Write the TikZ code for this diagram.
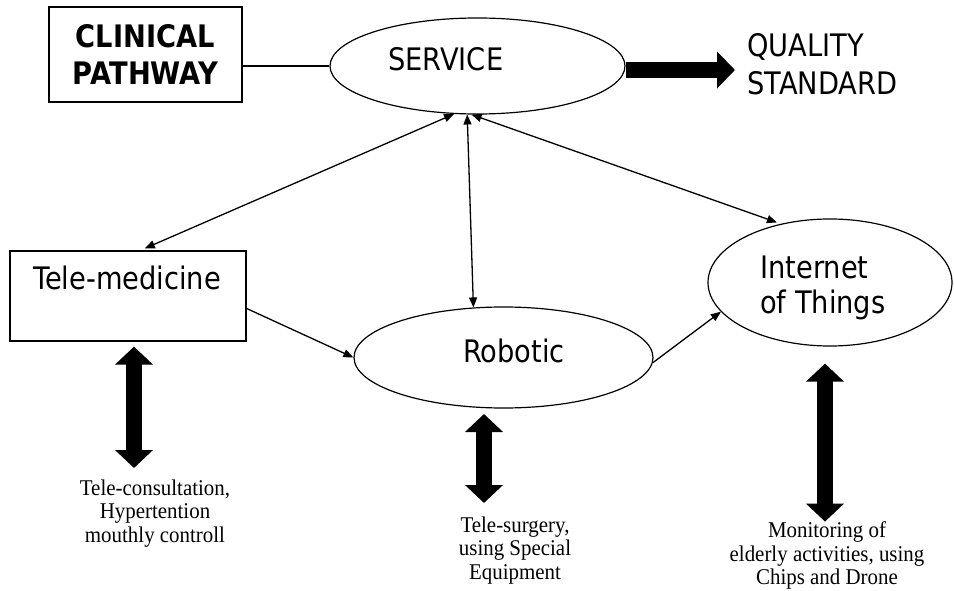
\documentclass[tikz,border=0pt]{standalone}
\usepackage{fontspec}
\usetikzlibrary{arrows.meta,shapes.geometric}
\newfontfamily\labelfont[FakeStretch=0.88]{DejaVu Sans}
\newfontfamily\notefont[FakeStretch=0.93]{Liberation Serif}

\begin{document}
\begin{tikzpicture}[x=1pt,y=-1pt,
  oval/.style={draw, ellipse, line width=1.2pt, inner sep=0pt},
  lbl/.style={font=\labelfont\fontsize{31}{37}\selectfont, inner sep=0pt},
  note/.style={font=\notefont\fontsize{22.5}{23.5}\selectfont, align=center, inner sep=0pt, anchor=north},
  link/.style={line width=1.3pt, -{Triangle[length=10pt,width=8pt]}},
  blink/.style={line width=1.3pt, {Triangle[length=10pt,width=8pt]}-{Triangle[length=10pt,width=8pt]}},
  fat/.style={line width=16pt, -{Triangle[length=18pt,width=36pt]}},
  bfat/.style={line width=16pt, {Triangle[length=18pt,width=37pt]}-{Triangle[length=18pt,width=37pt]}},
]
\useasboundingbox (0,0) rectangle (954,591);

% main blocks
\node[draw, line width=2pt, minimum width=193pt, minimum height=95pt, inner sep=0pt,
      align=center, font=\labelfont\bfseries\fontsize{31}{37}\selectfont]
      (cp) at (145.5,54.5) {CLINICAL\\PATHWAY};
\node[oval, minimum width=295pt, minimum height=96pt] (service) at (477.5,66) {};
\node[lbl, anchor=base west] (servicetext) at (388,71) {SERVICE};
\node[lbl, font=\labelfont\fontsize{31}{38}\selectfont, align=left, anchor=north west]
      (quality) at (747,33.5) {QUALITY\\STANDARD};
\coordinate (qtip) at (735,70);

\node[draw, line width=1.2pt, minimum width=236pt, minimum height=90pt, inner sep=0pt]
      (tele) at (128,296) {};
\node[lbl, anchor=base] (teletext) at (127,289) {Tele-medicine};

\node[oval, minimum width=299pt, minimum height=101pt] (robotic) at (503.5,357.5) {};
\node[lbl, anchor=base west] (robotictext) at (463,362) {Robotic};

\node[oval, minimum width=244pt, minimum height=127pt] (iot) at (830,282.5) {};
\node[lbl, font=\labelfont\fontsize{31}{35}\selectfont, align=left, anchor=north west]
      (iottext) at (760,255.4) {Internet\\of Things};

% notes under the blocks
\node[note] (tcnote) at (155,479.6) {Tele-consultation,\\Hypertention\\mouthly controll};
\node[note] (tsnote) at (515,516.6) {Tele-surgery,\\using Special\\Equipment};
\node[note] (monnote) at (827,521.6) {Monitoring of\\elderly activities, using\\Chips and Drone};

% thin connectors
\draw[line width=1.3pt] (service.west) -- (service.west -| cp.east);
\draw[blink, shorten >=5pt] (service.244.6) -- (tele.75);
\draw[blink] (service.258.8) -- (robotic.121.7);
\draw[blink, shorten >=4pt] (service.263.5) -- (iot.130.8);
\draw[link] (tele.-6.8) -- (robotic.west);
\draw[link] (robotic.-2.1) -- (iot.195.3);

% heavy arrows
\draw[fat] (service.east |- qtip) -- (qtip);
\draw[bfat, shorten <=5pt, shorten >=11.6pt] (tele.south -| 134,0) -- (tcnote.north -| 134,0);
\draw[bfat, shorten <=5.4pt, shorten >=13.6pt] (robotic.south -| 484,0) -- (tsnote.north -| 484,0);
\draw[bfat, shorten <=17pt] (iot.south -| 825,0) -- (monnote.north -| 825,0);
\end{tikzpicture}
\end{document}
